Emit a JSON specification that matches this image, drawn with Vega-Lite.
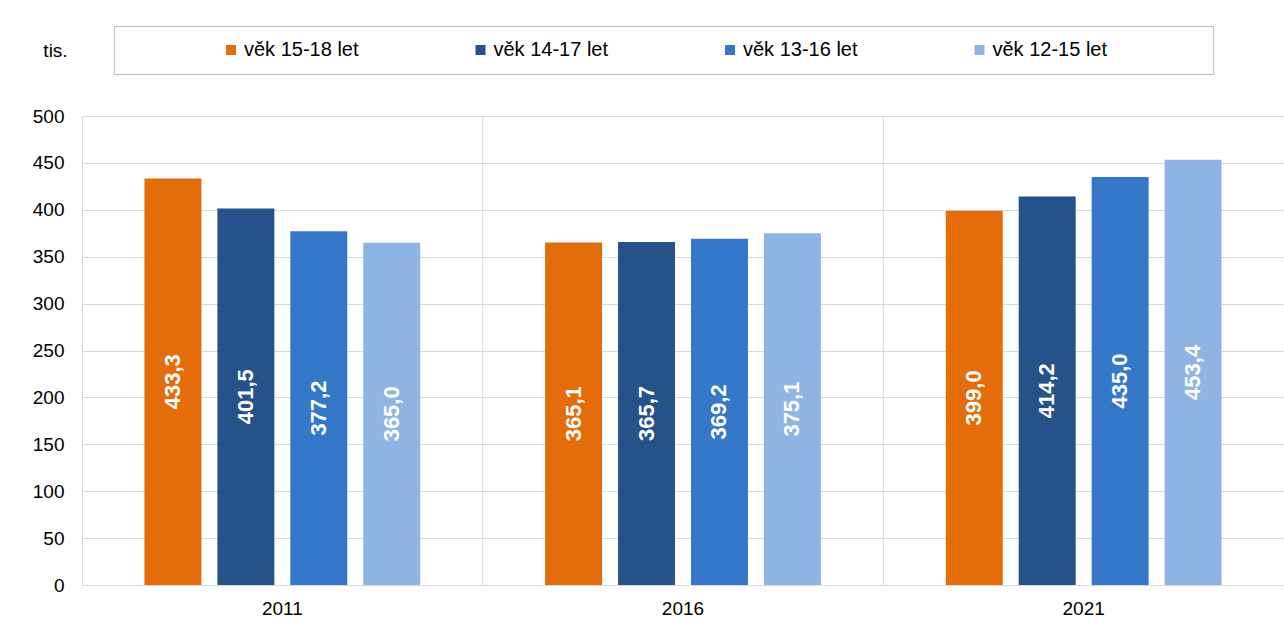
{
  "$schema": "https://vega.github.io/schema/vega-lite/v6.json",
  "width": 1202,
  "height": 469,
  "autosize": {"type": "none"},
  "padding": {"left": 82, "top": 116, "right": 0, "bottom": 47},
  "background": "white",
  "config": {
    "font": "Liberation Sans",
    "view": {"stroke": null},
    "locale": {"number": {"decimal": ",", "thousands": " ", "grouping": [3], "currency": ["", " Kč"]}}
  },
  "data": {
    "values": [
      {"year": "2011", "series": "věk 15-18 let", "value": 433.3},
      {"year": "2011", "series": "věk 14-17 let", "value": 401.5},
      {"year": "2011", "series": "věk 13-16 let", "value": 377.2},
      {"year": "2011", "series": "věk 12-15 let", "value": 365.0},
      {"year": "2016", "series": "věk 15-18 let", "value": 365.1},
      {"year": "2016", "series": "věk 14-17 let", "value": 365.7},
      {"year": "2016", "series": "věk 13-16 let", "value": 369.2},
      {"year": "2016", "series": "věk 12-15 let", "value": 375.1},
      {"year": "2021", "series": "věk 15-18 let", "value": 399.0},
      {"year": "2021", "series": "věk 14-17 let", "value": 414.2},
      {"year": "2021", "series": "věk 13-16 let", "value": 435.0},
      {"year": "2021", "series": "věk 12-15 let", "value": 453.4}
    ]
  },
  "layer": [
    {
      "mark": {"type": "bar"},
      "encoding": {
        "x": {
          "field": "year", "type": "nominal",
          "scale": {"paddingInner": 0, "paddingOuter": 0},
          "axis": {"title": null, "labelAngle": 0, "labelFontSize": 19, "labelColor": "#000000", "labelPadding": 14, "ticks": false, "domainColor": "#d9d9d9", "grid": false}
        },
        "xOffset": {
          "field": "series", "type": "nominal",
          "sort": ["věk 15-18 let", "věk 14-17 let", "věk 13-16 let", "věk 12-15 let"],
          "scale": {"paddingInner": 0.219, "paddingOuter": 0.856}
        },
        "y": {
          "field": "value", "type": "quantitative",
          "scale": {"domain": [0, 500], "nice": false},
          "axis": {"title": "tis.", "titleAngle": 0, "titleFontSize": 19, "titleFontWeight": "normal", "titleColor": "#000000", "titleX": -27, "titleY": -66, "titleAlign": "center", "titleBaseline": "middle",
                   "values": [0, 50, 100, 150, 200, 250, 300, 350, 400, 450, 500],
                   "labelFontSize": 19, "labelColor": "#000000", "labelPadding": 18, "ticks": false, "domainColor": "#d9d9d9", "gridColor": "#d9d9d9"}
        },
        "color": {
          "field": "series", "type": "nominal",
          "sort": ["věk 15-18 let", "věk 14-17 let", "věk 13-16 let", "věk 12-15 let"],
          "scale": {"domain": ["věk 15-18 let", "věk 14-17 let", "věk 13-16 let", "věk 12-15 let"], "range": ["#E46C0A", "#255289", "#3577C9", "#8EB4E3"]},
          "legend": {
            "title": " ", "titleOrient": "right", "titlePadding": 92, "titleFontSize": 19,
            "orient": "none", "direction": "horizontal", "columns": 4,
            "legendX": 32, "legendY": -90,
            "symbolType": "square", "symbolSize": 100, "symbolStrokeWidth": 0, "symbolOffset": 93,
            "labelFontSize": 20, "labelColor": "#000000", "labelOffset": 3,
            "columnPadding": 18.5, "padding": 14,
            "strokeColor": "#bfbfbf", "fillColor": "white"
          }
        }
      }
    },
    {
      "mark": {"type": "text", "angle": 270, "color": "white", "fontWeight": "bold", "fontSize": 22, "baseline": "middle", "align": "center"},
      "encoding": {
        "x": {"field": "year", "type": "nominal"},
        "xOffset": {"field": "series", "type": "nominal", "sort": ["věk 15-18 let", "věk 14-17 let", "věk 13-16 let", "věk 12-15 let"]},
        "y": {"field": "value", "type": "quantitative", "stack": "zero", "bandPosition": 0.5},
        "text": {"field": "value", "type": "quantitative", "format": ".1f"}
      }
    },
    {
      "data": {"values": [{"year": "2016"}, {"year": "2021"}]},
      "mark": {"type": "rule", "color": "#d9d9d9", "strokeWidth": 1},
      "encoding": {
        "x": {"field": "year", "type": "nominal", "bandPosition": 0}
      }
    }
  ]
}
